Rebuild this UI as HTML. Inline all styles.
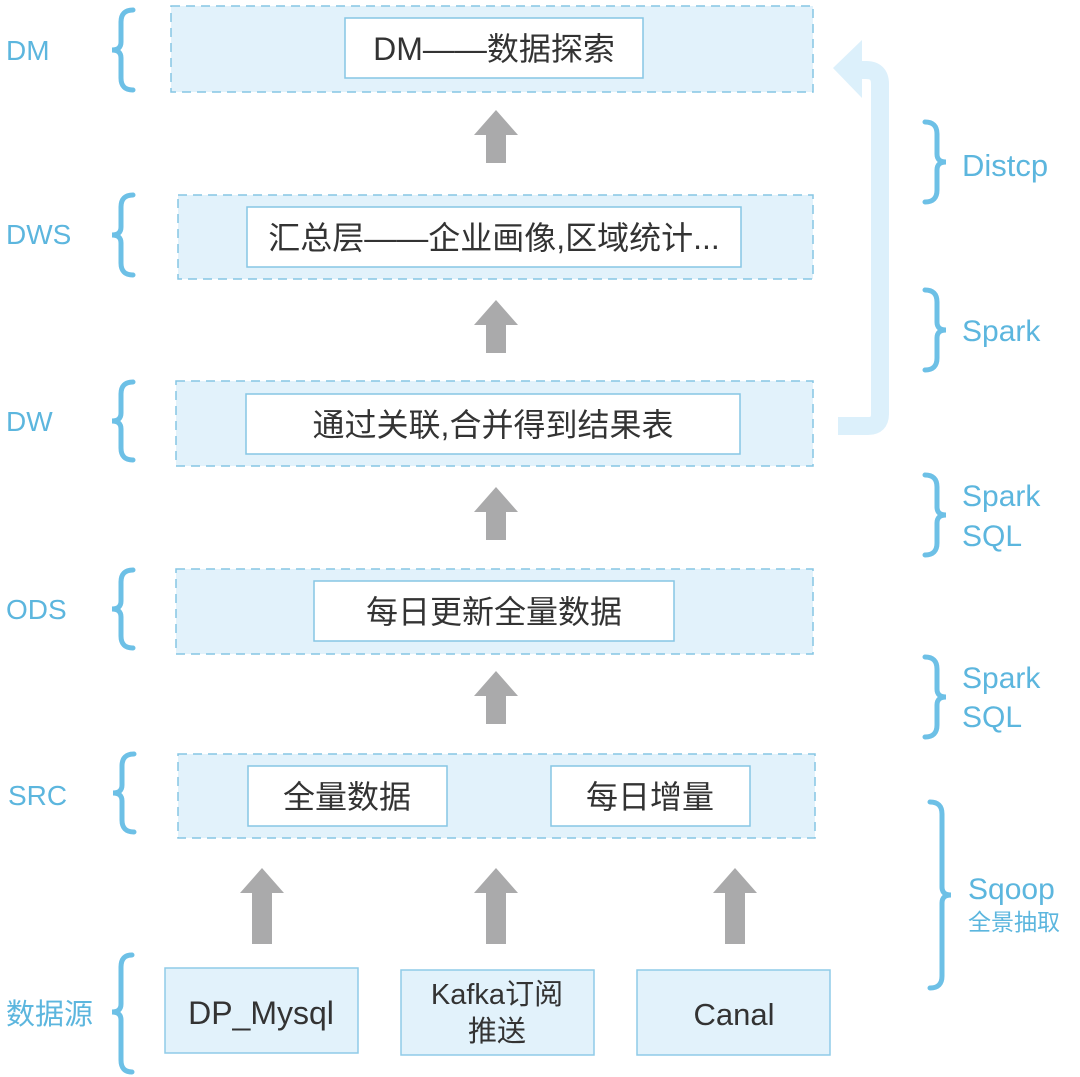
<!DOCTYPE html>
<html><head><meta charset="utf-8"><style>
html,body{margin:0;padding:0;background:#fff;width:1080px;height:1077px;overflow:hidden}
text{font-family:"Liberation Sans","Noto Sans CJK SC",sans-serif}
</style></head><body>
<svg width="1080" height="1077" viewBox="0 0 1080 1077" xmlns="http://www.w3.org/2000/svg">
<defs>
<g id="arr"><polygon points="-22,25 0,0 22,25 10,25 10,53 -10,53 -10,25" fill="#aaaaab"/></g>
<g id="arrL"><polygon points="-22,25 0,0 22,25 10,25 10,76 -10,76 -10,25" fill="#aaaaab"/></g>
</defs>
<path d="M838 426 H868 Q880 426 880 414 V84 Q880 70 866 70 H852" fill="none" stroke="#dcf0fb" stroke-width="18"/>
<polygon points="833,68 862,40 862,98" fill="#dcf0fb"/>
<g fill="#e2f2fb" stroke="#86c6e4" stroke-width="1.5" stroke-dasharray="9,6">
<rect x="171" y="6" width="642" height="86"/>
<rect x="178" y="195" width="635" height="84"/>
<rect x="176" y="381" width="637" height="85"/>
<rect x="176" y="569" width="637" height="85"/>
<rect x="178" y="754" width="637" height="84"/>
</g>
<g fill="#fff" stroke="#86c6e4" stroke-width="1.5">
<rect x="345" y="18" width="298" height="60"/>
<rect x="247" y="207" width="494" height="60"/>
<rect x="246" y="394" width="494" height="60"/>
<rect x="314" y="581" width="360" height="60"/>
<rect x="248" y="766" width="199" height="60"/>
<rect x="551" y="766" width="199" height="60"/>
</g>
<g fill="#e2f2fb" stroke="#8fcbe8" stroke-width="1.5">
<rect x="165" y="968" width="193" height="85"/>
<rect x="401" y="970" width="193" height="85"/>
<rect x="637" y="970" width="193" height="85"/>
</g>
<g font-size="32" fill="#333" text-anchor="middle">
<text x="494" y="60">DM——数据探索</text>
<text x="494" y="249">汇总层——企业画像,区域统计...</text>
<text x="493" y="436">通过关联,合并得到结果表</text>
<text x="494" y="623">每日更新全量数据</text>
<text x="347" y="808">全量数据</text>
<text x="650" y="808">每日增量</text>
<text x="261" y="1024" font-size="32">DP_Mysql</text>
<text x="497" y="1004" font-size="29">Kafka订阅</text>
<text x="497" y="1041" font-size="29">推送</text>
<text x="734" y="1025" font-size="31">Canal</text>
</g>
<use href="#arr" x="496" y="110"/>
<use href="#arr" x="496" y="300"/>
<use href="#arr" x="496" y="487"/>
<use href="#arr" x="496" y="671"/>
<use href="#arrL" x="262" y="868"/>
<use href="#arrL" x="496" y="868"/>
<use href="#arrL" x="735" y="868"/>
<g font-size="28" fill="#5cb6de">
<text x="6" y="60">DM</text>
<text x="6" y="244">DWS</text>
<text x="6" y="431">DW</text>
<text x="6" y="619">ODS</text>
<text x="8" y="805">SRC</text>
<text x="6" y="1024" font-size="29">数据源</text>
<text x="962" y="176" font-size="31">Distcp</text>
<text x="962" y="341" font-size="30">Spark</text>
<text x="962" y="506" font-size="30">Spark</text>
<text x="962" y="546" font-size="30">SQL</text>
<text x="962" y="688" font-size="30">Spark</text>
<text x="962" y="727" font-size="30">SQL</text>
<text x="968" y="899" font-size="30">Sqoop</text>
<text x="968" y="930" font-size="23">全景抽取</text>
</g>
<g fill="none" stroke="#6dc0e6" stroke-width="5" stroke-linecap="round">
<path d="M133 10 Q121 10 121 22 V42 Q121 50 112 50 Q121 50 121 58 V78 Q121 90 133 90"/>
<path d="M133 195 Q121 195 121 207 V227 Q121 235 112 235 Q121 235 121 243 V263 Q121 275 133 275"/>
<path d="M133 382 Q121 382 121 394 V413 Q121 421 112 421 Q121 421 121 429 V448 Q121 460 133 460"/>
<path d="M133 570 Q121 570 121 582 V601 Q121 609 112 609 Q121 609 121 617 V636 Q121 648 133 648"/>
<path d="M134 754 Q122 754 122 766 V785 Q122 793 113 793 Q122 793 122 801 V820 Q122 832 134 832"/>
<path d="M132 955 Q121 955 121 967 V1004 Q121 1012 112 1012 Q121 1012 121 1020 V1060 Q121 1072 132 1072"/>
<path d="M925 122 Q937 122 937 134 V154 Q937 162 946 162 Q937 162 937 170 V190 Q937 202 925 202"/>
<path d="M925 290 Q937 290 937 302 V322 Q937 330 946 330 Q937 330 937 338 V358 Q937 370 925 370"/>
<path d="M925 475 Q937 475 937 487 V507 Q937 515 946 515 Q937 515 937 523 V543 Q937 555 925 555"/>
<path d="M925 657 Q937 657 937 669 V689 Q937 697 946 697 Q937 697 937 705 V725 Q937 737 925 737"/>
<path d="M930 802 Q942 802 942 814 V887 Q942 895 951 895 Q942 895 942 903 V976 Q942 988 930 988"/>
</g>
</svg>
</body></html>
